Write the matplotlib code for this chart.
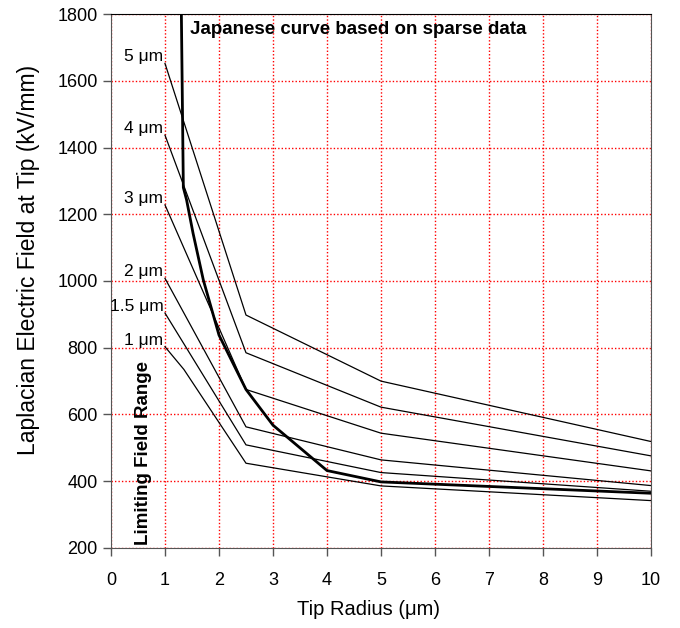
import matplotlib
matplotlib.use("Agg")
import matplotlib.pyplot as plt

plt.rcParams['font.family'] = ['Liberation Sans', 'DejaVu Sans']

# tip radius (um) where the thin curves are evaluated
radius = [1, 2.5, 5, 10]
radius_1um = [1, 1.35, 2.5, 5, 10]

# laplacian field (kV/mm) for each emitter length
field_5um = [1652, 898, 700, 519]
field_4um = [1437, 785, 622, 476]
field_3um = [1228, 675, 544, 431]
field_2um = [1008, 563, 464, 387]
field_1p5um = [904, 509, 426, 370]
field_1um = [803, 735, 454, 386, 342]

curve_labels = ['5 μm', '4 μm', '3 μm', '2 μm', '1.5 μm', '1 μm']

# japanese curve
jp_radius = [1.30, 1.34, 1.40, 1.52, 1.71, 2.0, 2.5, 3, 4, 5, 10]
jp_field = [1850, 1280, 1243, 1143, 1003, 838, 675, 568, 432, 398, 364]

fig = plt.figure(figsize=(6.8, 6.28), dpi=100)
ax = fig.add_axes([0.1632, 0.1274, 0.7942, 0.8503])

ax.set_xlim(0, 10)
ax.set_ylim(200, 1800)
ax.set_xticks(range(0, 11))
ax.set_yticks(range(200, 1801, 200))

ax.grid(True, color='red', linestyle=(0, (1, 1.5)), linewidth=1.0)
ax.set_axisbelow(True)

series = [field_5um, field_4um, field_3um, field_2um, field_1p5um]
for s in series:
    ax.plot(radius, s, color='black', lw=0.9)
ax.plot(radius_1um, field_1um, color='black', lw=0.9)

ax.plot(jp_radius, jp_field, color='black', lw=2.0, solid_joinstyle='round')

starts = [s[0] for s in series] + [field_1um[0]]
for lab, y0 in zip(curve_labels, starts):
    ax.text(0.97, y0 + 20, lab, ha='right', va='center', fontsize=12.5)

ax.text(1.46, 1755, 'Japanese curve based on sparse data', fontsize=13.5,
        fontweight='bold', ha='left', va='center')
ax.text(0.6, 210, 'Limiting Field Range', rotation=90, fontsize=13.5,
        fontweight='bold', ha='center', va='bottom')

for side in ['left', 'bottom', 'right']:
    ax.spines[side].set_color('#555555')
ax.spines['top'].set_color('black')
ax.tick_params(axis='both', direction='out', length=6, width=1,
               color='#555555', labelsize=13)
ax.tick_params(axis='x', pad=11)

ax.set_xlabel('Tip Radius (μm)', fontsize=14.5)
ax.set_ylabel('Laplacian Electric Field at Tip (kV/mm)', fontsize=16.5)
ax.xaxis.set_label_coords(0.476, -0.097)
ax.yaxis.set_label_coords(-0.132, 0.539)

fig.savefig('out.png', dpi=100)
